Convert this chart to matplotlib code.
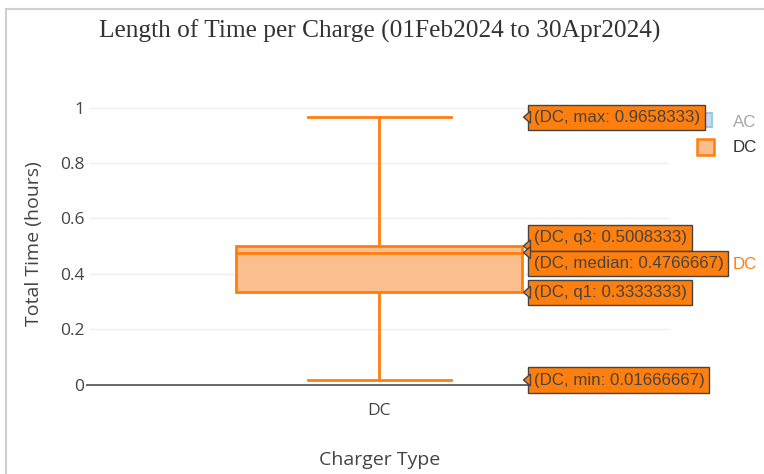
import numpy as np
import matplotlib
matplotlib.use("Agg")
import matplotlib.pyplot as plt
from matplotlib.patches import Polygon, Rectangle
from matplotlib.lines import Line2D
from matplotlib.transforms import ScaledTranslation

# Box statistics (hours)
categories = ["DC"]
stat_names = ["max", "q3", "median", "q1", "min"]
stat_values = [0.9658333, 0.5008333, 0.4766667, 0.3333333, 0.01666667]
stat_text = ["0.9658333", "0.5008333", "0.4766667", "0.3333333", "0.01666667"]
legend_names = ["AC", "DC"]
yticks = [0, 0.2, 0.4, 0.6, 0.8, 1]

ORANGE = "#ff7f0e"
FILL = "#fbbe8d"
GRID = "#eeeeee"
TXT = "#444444"

plt.rcParams["font.family"] = ["Open Sans", "DejaVu Sans"]

fig = plt.figure(figsize=(7.64, 4.74), dpi=100)
ax = fig.add_axes([0.118, 0.171, 0.757, 0.631])

vmax, q3, med, q1, vmin = stat_values
x0 = 0
bw = 0.495
cw = 0.247

ax.add_patch(Rectangle((x0 - bw / 2, q1), bw, q3 - q1, facecolor=FILL,
                       edgecolor=ORANGE, linewidth=2, zorder=3))
ax.plot([x0 - bw / 2, x0 + bw / 2], [med, med], color=ORANGE, lw=2, zorder=4)
ax.plot([x0, x0], [q3, vmax], color=ORANGE, lw=2, zorder=3)
ax.plot([x0, x0], [vmin, q1], color=ORANGE, lw=2, zorder=3)
ax.plot([x0 - cw / 2, x0 + cw / 2], [vmax, vmax], color=ORANGE, lw=2, zorder=3)
ax.plot([x0 - cw / 2, x0 + cw / 2], [vmin, vmin], color=ORANGE, lw=2, zorder=3)

ax.set_xlim(-0.5, 0.5)
ax.set_ylim(-0.03, 1.05)
ax.set_xticks([0])
ax.set_xticklabels(categories)
ax.set_yticks(yticks)
ax.set_yticklabels(["0", "0.2", "0.4", "0.6", "0.8", "1"])
ax.tick_params(length=0, labelsize=12.5, colors=TXT, pad=4)
ax.tick_params(axis="x", pad=7)
for y in yticks[1:]:
    ax.axhline(y, color=GRID, lw=1, zorder=0)
ax.plot([-0.505, 0.5], [0, 0], color="#666666", lw=1.4, zorder=2, clip_on=False)
for s in ax.spines.values():
    s.set_visible(False)

ax.set_xlabel("Charger Type", fontsize=14, color=TXT, labelpad=23)
ax.set_ylabel("Total Time (hours)", fontsize=14, color=TXT, labelpad=12)

fig.text(0.497, 0.935, "Length of Time per Charge (01Feb2024 to 30Apr2024)",
         family="Liberation Serif", fontsize=18.3, color="#333333",
         ha="center", va="center")

# hover labels: pixel shift of each box (up positive), arrow stays on the value
shifts_px = [0, 8, -11, 0, 0]
xr = x0 + bw / 2
for name, val, txt, sh in zip(stat_names, stat_values, stat_text, shifts_px):
    tr = fig.dpi_scale_trans + ScaledTranslation(xr, val, ax.transData)
    ax.annotate(f"(DC, {name}: {txt})", xy=(xr, val), xycoords="data",
                xytext=(8, sh * 0.72), textcoords="offset points",
                ha="left", va="center", fontsize=12.2, color=TXT,
                family="Liberation Sans", zorder=7, annotation_clip=False,
                bbox=dict(boxstyle="square,pad=0.3", facecolor=ORANGE,
                          edgecolor=TXT, lw=1))
    tri = Polygon([(0.01, 0), (0.08, 0.06), (0.08, -0.06)], closed=True,
                  transform=tr, facecolor=ORANGE, edgecolor=TXT, lw=1, zorder=8,
                  clip_on=False)
    ax.add_patch(tri)

# trace name next to median label
fig.text(0.959, 0.443, "DC", color=ORANGE, fontsize=12.2,
         family="Liberation Sans", ha="left", va="center")

# legend (drawn below the axes so the hover label hides part of it)
fig.patches.append(Rectangle((0.914, 0.733), 0.018, 0.028, transform=fig.transFigure,
                             facecolor="#c6dbef", edgecolor="#9ecae1", lw=1.5,
                             zorder=-1))
fig.patches.append(Rectangle((0.912, 0.673), 0.022, 0.034, transform=fig.transFigure,
                             facecolor=FILL, edgecolor=ORANGE, lw=1.8, zorder=-1))
fig.text(0.959, 0.741, legend_names[0], color="#a6a6a6", fontsize=12.2,
         family="Liberation Sans", va="center")
fig.text(0.959, 0.688, legend_names[1], color="#333333", fontsize=12.2,
         family="Liberation Sans", va="center")

# screenshot frame
fig.add_artist(Line2D([0.008, 0.008], [0, 0.98], transform=fig.transFigure,
                      color="#d0d0d0", lw=1.5))
fig.add_artist(Line2D([0.008, 1], [0.98, 0.98], transform=fig.transFigure,
                      color="#d0d0d0", lw=1.5))

fig.savefig("out.png", dpi=100)
